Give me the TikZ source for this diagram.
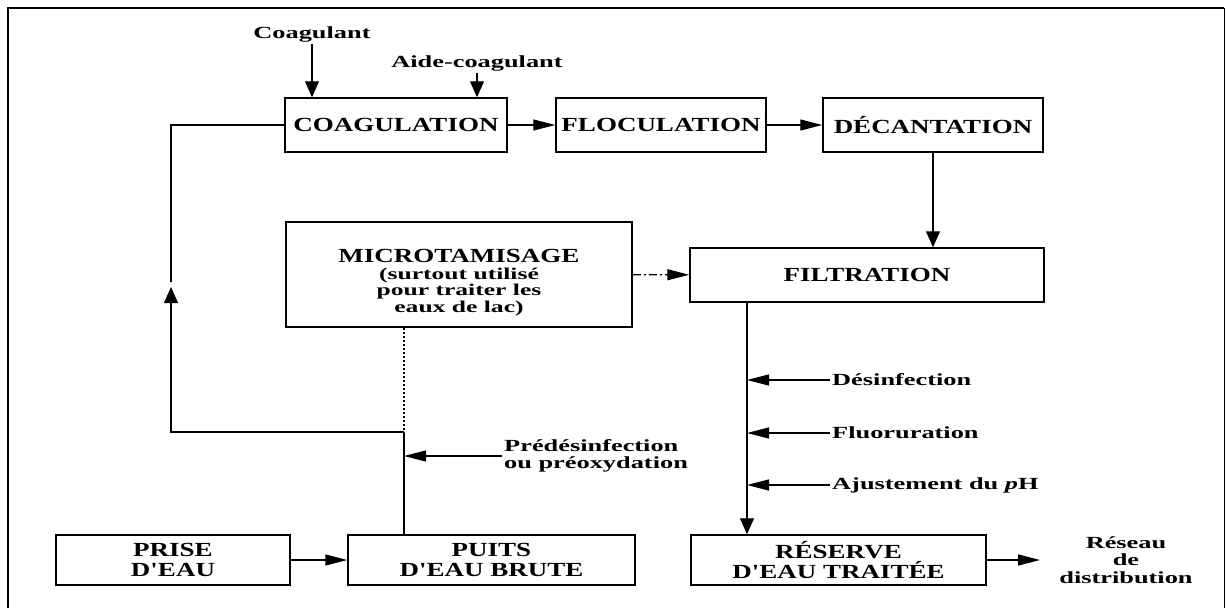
\documentclass[tikz,border=0pt]{standalone}
\usepackage{fontspec}
\newfontfamily\boxfont{Liberation Serif}[FakeStretch=1.35]
\newfontfamily\lblfont{Liberation Serif}[FakeStretch=1.55]
\newcommand\subtxt{\lblfont\fontsize{16.5}{16.5}\selectfont}
\usetikzlibrary{arrows.meta}

\begin{document}
\begin{tikzpicture}[x=1pt, y=-1pt,
	box/.style={draw, line width=1.5pt, inner sep=0pt, align=center, font=\boxfont\bfseries\fontsize{20}{20}\selectfont},
	lbl/.style={inner sep=2pt, align=center, font=\lblfont\bfseries\fontsize{17}{17.5}\selectfont},
	flow/.style={line width=1.2pt},
	harr/.style={flow, -{Triangle[length=22pt, width=11pt]}},
	varr/.style={flow, -{Triangle[length=16pt, width=14pt]}}]
	\useasboundingbox (0,0) rectangle (1226,608);
	% frame
	\draw[line width=2.5pt] (8,608) -- (8,8) -- (1224,8);
	\draw[line width=1pt] (1224,8) -- (1224,608);

	% treatment steps
	\node[box, minimum width=222pt, minimum height=54pt] (coag) at (396,125) {COAGULATION};
	\node[box, minimum width=210pt, minimum height=54pt] (floc) at (661,125) {FLOCULATION};
	\node[box, minimum width=220pt, minimum height=54pt] (dec) at (933,125) {DÉCANTATION};
	\node[box, minimum width=354pt, minimum height=54pt] (filt) at (867,275) {FILTRATION};
	\node[box, minimum width=346pt, minimum height=105pt, font=\boxfont\bfseries\fontsize{20}{16.5}\selectfont] (micro) at (459,274.5) {\rule{0pt}{30pt}MICROTAMISAGE\\\subtxt (surtout utilisé\\\subtxt pour traiter les\\\subtxt eaux de lac)};
	\node[box, minimum width=234pt, minimum height=50pt] (prise) at (173,560) {PRISE\\D'EAU};
	\node[box, minimum width=287pt, minimum height=50pt] (puits) at (491.5,560) {PUITS\\D'EAU BRUTE};
	\node[box, minimum width=295pt, minimum height=50pt] (res) at (838.5,560) {RÉSERVE\\D'EAU TRAITÉE};

	% reagents and side labels
	\node[lbl] (coagulant) at (312,34) {Coagulant};
	\node[lbl] (aide) at (477,63) {Aide-coagulant};
	\node[lbl, anchor=west, align=left] (prede) at (502,456) {Prédésinfection\\ou préoxydation};
	\node[lbl, anchor=west] (desinf) at (830,380) {Désinfection};
	\node[lbl, anchor=west] (fluor) at (830,433) {Fluoruration};
	\node[lbl, anchor=west] (ajust) at (830,485) {Ajustement du {\itshape p}H};
	\node[lbl] (reseau) at (1126,560) {Réseau\\de\\distribution};

	\coordinate (junc) at (404,432);
	\coordinate (loop) at (171,432);
	\coordinate (fo) at (747,302);
	\coordinate (out) at (1040,560);

	% connectors
	\draw[varr] (coagulant) -- (coagulant |- coag.north);
	\draw[varr] (aide) -- (aide |- coag.north);
	\draw[harr] (coag) -- (floc);
	\draw[harr] (floc) -- (dec);
	\draw[varr] (dec) -- (dec |- filt.north);
	\draw[harr, dash pattern=on 8pt off 3pt on 2pt off 3pt] (micro) -- (filt);
	\draw[flow, dash pattern=on 2pt off 2pt] (junc |- micro.south) -- (junc);
	\draw[flow] (junc) -- (junc |- puits.north);
	\draw[varr] (junc) -- (loop) -- ++(0,-145);
	\draw[flow] (loop) ++(0,-150) |- (coag);
	\draw[harr] (prede.west) -- (prede.west -| junc);
	\draw[harr] (desinf) -- (desinf -| fo);
	\draw[harr] (fluor) -- (fluor -| fo);
	\draw[harr] (ajust) -- (ajust -| fo);
	\draw[varr] (fo |- filt.south) -- (fo |- res.north);
	\draw[harr] (prise) -- (puits);
	\draw[harr] (res) -- (out);
\end{tikzpicture}
\end{document}
